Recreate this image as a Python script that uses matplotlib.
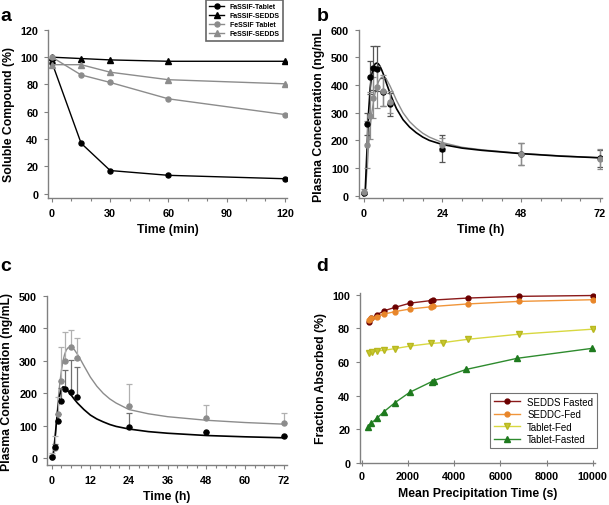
import matplotlib
matplotlib.use("Agg")
import matplotlib.pyplot as plt
from matplotlib.ticker import MultipleLocator
import numpy as np

plt.rcParams['font.family'] = ['Liberation Sans', 'DejaVu Sans']

# ---------------- Panel a data ----------------
a_time = [0, 15, 30, 60, 120]
a_fassif_tablet = [96, 37, 17, 13.5, 11]
a_fassif_sedds = [100, 99, 98, 97, 97]
a_fessif_tablet = [100, 87, 81.5, 69.5, 58]
a_fessif_sedds = [94.5, 94.5, 89, 83.5, 80.5]
a_labels = ['FaSSIF-Tablet', 'FaSSIF-SEDDS', 'FeSSIF Tablet', 'FeSSIF-SEDDS']

# ---------------- Panel b data ----------------
b_time = [0, 1, 2, 3, 4, 6, 8, 24, 48, 72]
b_black = [10, 260, 428, 462, 460, 375, 330, 170, 150, 135]
b_black_err = [5, 40, 60, 80, 80, 50, 40, 50, 40, 30]
b_gray = [15, 185, 290, 355, 393, 380, 338, 185, 152, 133]
b_gray_err = [8, 85, 85, 75, 75, 55, 40, 25, 40, 35]
b_black_fit_t = [0, 0.5, 1, 1.5, 2, 2.5, 3, 3.5, 4, 4.5, 5, 5.5, 6, 7, 8, 9, 10, 12, 14, 16, 18, 20, 24, 30, 36, 48, 60, 72]
b_black_fit = [0, 20, 160, 300, 390, 440, 465, 477, 480, 477, 468, 455, 440, 405, 372, 342, 315, 275, 248, 228, 212, 200, 185, 172, 164, 152, 143, 137]
b_gray_fit_t = [0, 0.5, 1, 1.5, 2, 2.5, 3, 3.5, 4, 4.5, 5, 5.5, 6, 6.5, 7, 8, 9, 10, 12, 14, 16, 18, 20, 24, 30, 36, 48, 60, 72]
b_gray_fit = [0, 10, 90, 180, 250, 300, 340, 372, 395, 412, 422, 428, 430, 427, 420, 398, 372, 345, 300, 268, 245, 226, 212, 192, 175, 166, 153, 144, 137]

# ---------------- Panel c data ----------------
c_time = [0, 1, 2, 3, 4, 6, 8, 24, 48, 72]
c_black = [5, 35, 115, 175, 213, 203, 190, 95, 80, 70]
c_black_up = [5, 10, 20, 40, 60, 100, 90, 45, 0, 0]
c_gray = [5, 30, 135, 238, 300, 342, 310, 160, 125, 110]
c_gray_up = [10, 40, 55, 105, 88, 52, 60, 70, 40, 30]
c_black_fit_t = [0, 0.5, 1, 1.5, 2, 2.5, 3, 3.5, 4, 4.5, 5, 6, 7, 8, 9, 10, 12, 14, 16, 18, 20, 24, 30, 36, 48, 60, 72]
c_black_fit = [0, 15, 60, 115, 160, 195, 213, 220, 219, 215, 208, 195, 182, 170, 160, 150, 133, 121, 112, 104, 98, 90, 82, 77, 70, 66, 63]
c_gray_fit_t = [0, 0.5, 1, 1.5, 2, 2.5, 3, 3.5, 4, 4.5, 5, 5.5, 6, 6.5, 7, 8, 9, 10, 12, 14, 16, 18, 20, 24, 30, 36, 48, 60, 72]
c_gray_fit = [0, 10, 50, 115, 180, 230, 270, 300, 320, 333, 340, 342, 342, 340, 335, 320, 303, 285, 250, 222, 200, 183, 170, 150, 137, 128, 117, 110, 105]

# ---------------- Panel d data ----------------
d_x_sedds_fasted = [300, 420, 640, 980, 1450, 2100, 3000, 3100, 4600, 6800, 10000]
d_y_sedds_fasted = [84, 86, 88, 90.5, 92.5, 95, 96.5, 96.8, 98, 99, 99.5]
d_x_seddc_fed = [300, 420, 640, 980, 1450, 2100, 3000, 3100, 4600, 6800, 10000]
d_y_seddc_fed = [85, 86, 87, 88.5, 90, 91.5, 92.8, 93, 94.5, 96, 97]
d_x_tablet_fed = [300, 450, 640, 980, 1450, 2100, 3000, 3500, 4600, 6800, 10000]
d_y_tablet_fed = [65.5, 66, 66.5, 67, 68, 69.5, 71, 71.5, 73.5, 76.5, 79.5]
d_x_tablet_fasted = [272, 415, 659, 960, 1433, 2077, 3023, 3109, 4527, 6733, 9971]
d_y_tablet_fasted = [21.3, 23.7, 26.6, 30.5, 35.8, 42, 48.3, 48.9, 55.6, 62.2, 68.1]
d_labels = ['SEDDS Fasted', 'SEDDC-Fed', 'Tablet-Fed', 'Tablet-Fasted']

GRAY = '#8c8c8c'
SPINE = '#808080'
tickfs = 7.8
labfs = 8.8

fig = plt.figure(figsize=(6.09, 5.06), dpi=100)


def style(ax):
    for s in ['top', 'right']:
        ax.spines[s].set_visible(False)
    for s in ['left', 'bottom']:
        ax.spines[s].set_color(SPINE)
        ax.spines[s].set_linewidth(1.0)
    ax.tick_params(axis='both', colors=SPINE, labelcolor='black', labelsize=tickfs,
                   length=3, width=0.8, pad=4)
    ax.tick_params(axis='x', which='minor', colors=SPINE, length=2, width=0.8, direction='out')
    for lab in ax.get_xticklabels() + ax.get_yticklabels():
        lab.set_fontweight('bold')


# ---------- a ----------
axa = fig.add_axes([0.079, 0.607, 0.392, 0.332])
axa.plot(a_time, a_fassif_tablet, '-o', color='black', ms=3.6, lw=1, label=a_labels[0])
axa.plot(a_time, a_fassif_sedds, '-^', color='black', ms=3.8, lw=1, label=a_labels[1])
axa.plot(a_time, a_fessif_tablet, '-o', color=GRAY, ms=3.6, lw=1, label=a_labels[2])
axa.plot(a_time, a_fessif_sedds, '-^', color=GRAY, ms=3.8, lw=1, label=a_labels[3])
axa.set_xlim(-2, 121)
axa.set_ylim(-3, 120)
axa.set_xticks([0, 30, 60, 90, 120])
axa.xaxis.set_minor_locator(MultipleLocator(10))
axa.set_yticks([0, 20, 40, 60, 80, 100, 120])
style(axa)
axa.set_xlabel('Time (min)', fontsize=labfs, fontweight='bold')
axa.set_ylabel('Soluble Compound (%)', fontsize=labfs, fontweight='bold')
leg = axa.legend(loc='upper right', bbox_to_anchor=(1.0, 1.2), frameon=True,
                 fancybox=False, handlelength=2.2, borderpad=0.5, labelspacing=0.3,
                 prop={'weight': 'bold', 'size': 5})
leg.get_frame().set_edgecolor('#404040')
leg.get_frame().set_linewidth(1.2)

# ---------- b ----------
axb = fig.add_axes([0.589, 0.607, 0.399, 0.332])
axb.plot(b_gray_fit_t, b_gray_fit, '-', color=GRAY, lw=1)
axb.plot(b_black_fit_t, b_black_fit, '-', color='black', lw=1.2)
axb.errorbar(b_time, b_black, yerr=b_black_err, fmt='o', color='black', ms=3.6,
             ecolor='#555555', elinewidth=0.9, capsize=2.5, capthick=0.9)
axb.errorbar(b_time, b_gray, yerr=b_gray_err, fmt='o', color=GRAY, ms=3.6,
             ecolor=GRAY, elinewidth=0.9, capsize=2.5, capthick=0.9)
axb.set_xlim(-1.5, 72.5)
axb.set_ylim(-8, 600)
axb.set_xticks([0, 24, 48, 72])
axb.xaxis.set_minor_locator(MultipleLocator(6))
axb.set_yticks([0, 100, 200, 300, 400, 500, 600])
style(axb)
axb.set_xlabel('Time (h)', fontsize=labfs, fontweight='bold')
axb.set_ylabel('Plasma Concentration (ng/mL', fontsize=labfs, fontweight='bold')

# ---------- c ----------
axc = fig.add_axes([0.077, 0.079, 0.394, 0.334])
axc.plot(c_gray_fit_t, c_gray_fit, '-', color=GRAY, lw=1)
axc.plot(c_black_fit_t, c_black_fit, '-', color='black', lw=1.2)
axc.errorbar(c_time, c_gray, yerr=[np.zeros(len(c_gray_up)), c_gray_up], fmt='o', color=GRAY,
             ms=3.6, ecolor='#b0b0b0', elinewidth=0.9, capsize=2.5, capthick=0.9)
axc.errorbar(c_time, c_black, yerr=[np.zeros(len(c_black_up)), c_black_up], fmt='o', color='black',
             ms=3.6, ecolor='#707070', elinewidth=0.9, capsize=2.5, capthick=0.9)
axc.set_xlim(-1.5, 73)
axc.set_ylim(-21, 500)
axc.set_xticks([0, 12, 24, 36, 48, 60, 72])
axc.xaxis.set_minor_locator(MultipleLocator(3))
axc.set_yticks([0, 100, 200, 300, 400, 500])
style(axc)
axc.set_xlabel('Time (h)', fontsize=labfs, fontweight='bold')
axc.set_ylabel('Plasma Concentration (ng/mL)', fontsize=labfs, fontweight='bold')

# ---------- d ----------
axd = fig.add_axes([0.591, 0.083, 0.386, 0.336])
axd.plot(d_x_sedds_fasted, d_y_sedds_fasted, '-o', color='#8b1a1a', mfc='#6b0000', mec='#6b0000',
         ms=3.5, lw=1, label=d_labels[0])
axd.plot(d_x_seddc_fed, d_y_seddc_fed, '-o', color='#f0953a', mfc='#e8862a', mec='#e8862a',
         ms=3.5, lw=1, label=d_labels[1])
axd.plot(d_x_tablet_fed, d_y_tablet_fed, '-v', color='#d8d840', mfc='#c8c830', mec='#b8b820',
         ms=4, lw=1, label=d_labels[2])
axd.plot(d_x_tablet_fasted, d_y_tablet_fasted, '-^', color='#2e8b2e', mfc='#1e7a1e', mec='#1e7a1e',
         ms=4, lw=1, label=d_labels[3])
axd.set_xlim(-80, 10100)
axd.set_ylim(0, 101)
axd.set_xticks([0, 2000, 4000, 6000, 8000, 10000])
axd.set_yticks([0, 20, 40, 60, 80, 100])
style(axd)
axd.tick_params(axis='x', direction='inout', length=4)
axd.set_xlabel('Mean Precipitation Time (s)', fontsize=labfs, fontweight='bold')
axd.set_ylabel('Fraction Absorbed (%)', fontsize=labfs, fontweight='bold')
legd = axd.legend(loc='lower right', bbox_to_anchor=(1.03, 0.06), fontsize=7, frameon=True,
                  fancybox=False, handlelength=2.6, borderpad=0.4, labelspacing=0.25)
legd.get_frame().set_edgecolor('#505050')
legd.get_frame().set_linewidth(0.8)

# panel letters
for x, y, t in [(0.0, 0.985, 'a'), (0.52, 0.985, 'b'), (0.0, 0.49, 'c'), (0.52, 0.49, 'd')]:
    fig.text(x, y, t, fontsize=14, fontweight='bold', va='top', ha='left')

fig.savefig('out.png', dpi=100)
